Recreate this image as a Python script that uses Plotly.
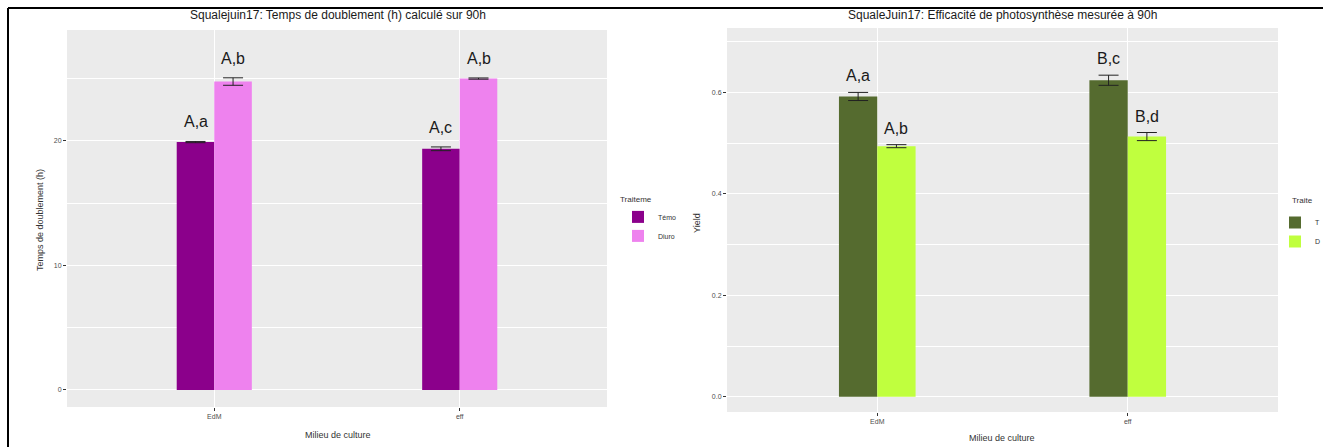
import plotly.graph_objects as go

# ---------------- data ----------------
milieux = ["EdM", "eff"]
traitements = ["Témoin", "Diuron"]

# left chart: doubling time (h)
temps_temoin = [19.9, 19.36]
temps_temoin_se = [0.05, 0.15]
temps_diuron = [24.76, 25.0]
temps_diuron_se = [0.3, 0.05]
temps_lettres_temoin = ["A,a", "A,c"]
temps_lettres_diuron = ["A,b", "A,b"]

# right chart: photosynthesis yield
yield_temoin = [0.592, 0.624]
yield_temoin_se = [0.008, 0.01]
yield_diuron = [0.494, 0.513]
yield_diuron_se = [0.003, 0.008]
yield_lettres_temoin = ["A,a", "B,c"]
yield_lettres_diuron = ["A,b", "B,d"]

# legend labels as visible (cropped) in the reference
leg_left_title, leg_left_names = "Traiteme", ["Témo", "Diuro"]
leg_right_title, leg_right_names = "Traite", ["T", "D"]

# ---------------- style ----------------
W, H = 1323, 447
FONT = "Liberation Sans"
PANEL = "#EBEBEB"
TICKC = "#4D4D4D"
BARW = 0.153  # width of one bar in category units

def px_x(p):
    return p / W

def px_y(p):
    return 1 - p / H

fig = go.Figure()

def add_bars(xa, ya, vals, se, color, name, legend):
    fig.add_trace(go.Bar(
        x=milieux, y=vals, name=name, legend=legend,
        marker=dict(color=color, line=dict(width=0)),
        error_y=dict(type="data", array=se, visible=True, color="#222222",
                     thickness=1, width=10),
        xaxis=xa, yaxis=ya, offsetgroup=name + legend,
    ))

add_bars("x", "y", temps_temoin, temps_temoin_se, "#8B008B", leg_left_names[0], "legend")
add_bars("x", "y", temps_diuron, temps_diuron_se, "#EE82EE", leg_left_names[1], "legend")
add_bars("x2", "y2", yield_temoin, yield_temoin_se, "#556B2F", leg_right_names[0], "legend2")
add_bars("x2", "y2", yield_diuron, yield_diuron_se, "#C0FF3E", leg_right_names[1], "legend2")

annotations = []
def add_letters(xref, yref, vals, se, labels, side, shift):
    for i, (v, e, lab) in enumerate(zip(vals, se, labels)):
        annotations.append(dict(
            x=i + side * BARW / 2, y=v + e, xref=xref, yref=yref,
            text=lab, showarrow=False, yanchor="bottom", yshift=shift,
            font=dict(family=FONT, size=16, color="#1A1A1A")))

add_letters("x", "y", temps_temoin, temps_temoin_se, temps_lettres_temoin, -1, 9)
add_letters("x", "y", temps_diuron, temps_diuron_se, temps_lettres_diuron, 1, 9)
add_letters("x2", "y2", yield_temoin, yield_temoin_se, yield_lettres_temoin, -1, 6)
add_letters("x2", "y2", yield_diuron, yield_diuron_se, yield_lettres_diuron, 1, 6)

def paper_text(x, y, text, size, color="#333333", angle=0, xanchor="center"):
    return dict(x=px_x(x), y=px_y(y), xref="paper", yref="paper", showarrow=False,
                xanchor=xanchor, yanchor="middle", text=text, textangle=angle,
                font=dict(family=FONT, size=size, color=color))

annotations += [
    paper_text(338, 15, "Squalejuin17: Temps de doublement (h) calculé sur 90h", 12, "#1A1A1A"),
    paper_text(1002, 15, "SqualeJuin17: Efficacité de photosynthèse mesurée à 90h", 12, "#1A1A1A"),
    paper_text(338, 435, "Milieu de culture", 9),
    paper_text(1002, 438, "Milieu de culture", 9),
    paper_text(40, 220, "Temps de doublement (h)", 9, angle=-90),
    paper_text(697, 223, "Yield", 9, angle=-90),
    paper_text(1290, 200, leg_right_title, 8, xanchor="left"),
]

axis_common = dict(showline=False, zeroline=False, ticks="outside", ticklen=3,
                   tickcolor="#333333", tickfont=dict(family=FONT, size=7, color=TICKC),
                   gridcolor="white", gridwidth=1.1)

fig.update_layout(
    width=W, height=H, margin=dict(l=0, r=0, t=0, b=0, autoexpand=False),
    paper_bgcolor="white", plot_bgcolor=PANEL,
    barmode="group", bargap=1 - 2 * BARW, bargroupgap=0,
    annotations=annotations,
    xaxis=dict(domain=[px_x(67), px_x(607)], anchor="y", type="category",
               range=[-0.6, 1.6], **axis_common),
    yaxis=dict(domain=[px_y(407), px_y(30)], anchor="x", range=[-1.375, 28.9],
               tickvals=[0, 10, 20], minor=dict(tickvals=[5, 15, 25], showgrid=True,
                                                gridcolor="white", gridwidth=0.5, ticks=""),
               **axis_common),
    xaxis2=dict(domain=[px_x(727), px_x(1278)], anchor="y2", type="category",
                range=[-0.6, 1.6], **axis_common),
    yaxis2=dict(domain=[px_y(412), px_y(28)], anchor="x2", range=[-0.03, 0.727],
                tickvals=[0.0, 0.2, 0.4, 0.6], ticktext=["0.0", "0.2", "0.4", "0.6"],
                minor=dict(tickvals=[0.1, 0.3, 0.5, 0.7], showgrid=True,
                           gridcolor="white", gridwidth=0.5, ticks=""),
                **axis_common),
    legend=dict(x=px_x(618), y=px_y(192), xanchor="left", yanchor="top",
                title=dict(text=leg_left_title, font=dict(family=FONT, size=8, color="#333333")),
                font=dict(family=FONT, size=7, color="#333333"),
                bgcolor="rgba(0,0,0,0)", itemwidth=30, tracegroupgap=0),
    legend2=dict(x=px_x(1275), y=px_y(208), xanchor="left", yanchor="top",
                 font=dict(family=FONT, size=7, color="#333333"),
                 bgcolor="rgba(0,0,0,0)", itemwidth=30, tracegroupgap=0),
    shapes=[
        dict(type="line", xref="paper", yref="paper", x0=px_x(8), x1=1,
             y0=px_y(8), y1=px_y(8), line=dict(color="black", width=2)),
        dict(type="line", xref="paper", yref="paper", x0=px_x(8), x1=px_x(8),
             y0=px_y(8), y1=0, line=dict(color="black", width=2)),
    ],
)

fig.write_html("out.html", config={"displayModeBar": False},
               post_script="document.body.style.margin='0px';document.body.style.overflow='hidden';")
